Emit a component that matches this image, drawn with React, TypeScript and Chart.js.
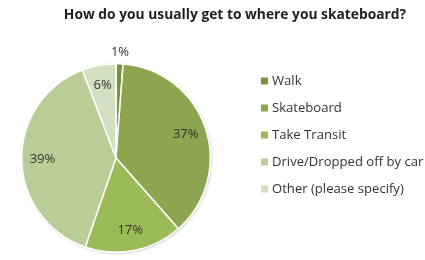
import React, { useEffect, useRef } from "react";
import { Chart, registerables } from "chart.js";

Chart.register(...registerables);

const TITLE = "How do you usually get to where you skateboard?";
const categories = ["Walk", "Skateboard", "Take Transit", "Drive/Dropped off by car", "Other (please specify)"];
const shares = [1.2, 37.3, 16.8, 38.9, 5.8];
const percentLabels = ["1%", "37%", "17%", "39%", "6%"];
const colors = ["#77933C", "#8BA64F", "#9BBB59", "#B9CD96", "#D3E0C1"];

const FONT = "'Open Sans', 'DejaVu Sans', sans-serif";

const overlayPlugin = {
  id: "overlay",
  beforeDatasetsDraw(chart: any) {
    const ctx = chart.ctx;
    ctx.save();
    ctx.shadowColor = "rgba(0,0,0,0.25)";
    ctx.shadowBlur = 3;
    ctx.shadowOffsetX = 1;
    ctx.shadowOffsetY = 1;
    const arc = chart.getDatasetMeta(0).data[0];
    if (arc) {
      ctx.beginPath();
      ctx.arc(arc.x, arc.y, arc.outerRadius, 0, Math.PI * 2);
      ctx.fillStyle = "#ffffff";
      ctx.fill();
    }
    ctx.restore();
  },
  afterDraw(chart: any) {
    const ctx = chart.ctx;
    ctx.save();
    // title
    ctx.fillStyle = "#1f1f1f";
    ctx.font = `bold 13.8px ${FONT}`;
    ctx.textAlign = "center";
    ctx.textBaseline = "middle";
    ctx.fillText(TITLE, 235, 15);

    // data labels
    const meta = chart.getDatasetMeta(0);
    ctx.font = `13px ${FONT}`;
    ctx.fillStyle = "#333333";
    meta.data.forEach((arc: any, i: number) => {
      const mid = (arc.startAngle + arc.endAngle) / 2;
      const r = i === 0 ? arc.outerRadius + 12 : arc.outerRadius * 0.78;
      const x = arc.x + Math.cos(mid) * r;
      const y = arc.y + Math.sin(mid) * r;
      ctx.fillText(percentLabels[i], x, y);
    });

    // legend
    ctx.textAlign = "left";
    ctx.font = `13.1px ${FONT}`;
    categories.forEach((c, i) => {
      const cy = 81 + i * 27;
      ctx.fillStyle = colors[i];
      ctx.fillRect(261, cy - 3.5, 7, 7);
      ctx.fillStyle = "#333333";
      ctx.fillText(c, 272, cy + 0.5);
    });
    ctx.restore();
  },
};

export default function App() {
  const ref = useRef<HTMLCanvasElement>(null);
  useEffect(() => {
    if (!ref.current) return;
    const chart = new Chart(ref.current, {
      type: "pie",
      data: {
        labels: categories,
        datasets: [
          {
            data: shares,
            backgroundColor: colors,
            borderColor: "#ffffff",
            borderWidth: 1.5,
          },
        ],
      },
      options: {
        responsive: false,
        animation: false,
        layout: { padding: { left: 21, right: 214, top: 63, bottom: 7 } },
        plugins: {
          legend: { display: false },
          title: { display: false },
          tooltip: { enabled: false },
        },
      },
      plugins: [overlayPlugin],
    });
    return () => chart.destroy();
  }, []);
  return (
    <div style={{ position: "fixed", left: 0, top: 0, width: 425, height: 260, background: "#fff" }}>
      <canvas ref={ref} width={425} height={260} />
    </div>
  );
}
